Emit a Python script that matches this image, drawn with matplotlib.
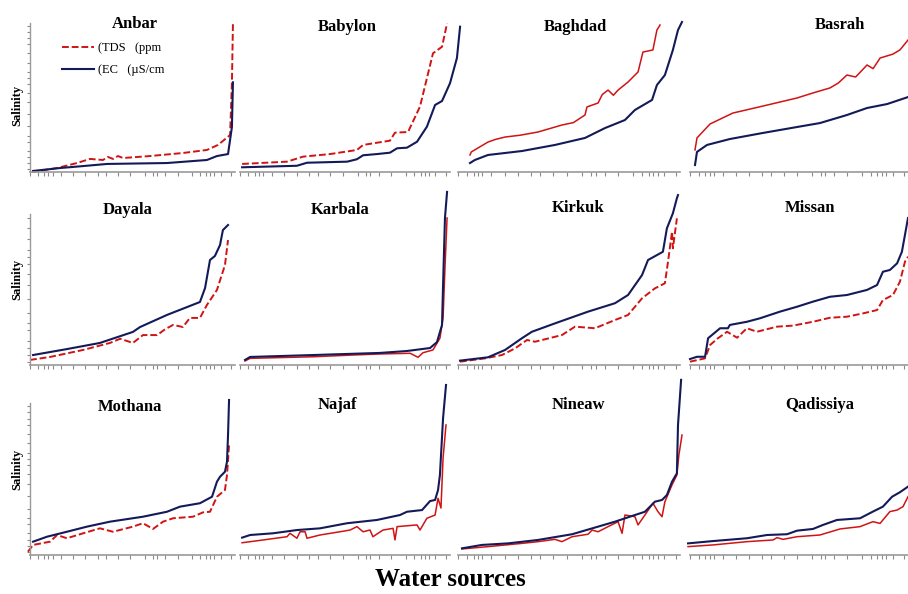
import matplotlib.pyplot as plt

plt.rcParams['font.family'] = ['Liberation Serif', 'DejaVu Serif']

regions = ['Anbar', 'Babylon', 'Baghdad', 'Basrah',
           'Dayala', 'Karbala', 'Kirkuk', 'Missan',
           'Mothana', 'Najaf', 'Nineaw', 'Qadissiya']

# x = position along the sorted water sources (% of panel), y = salinity (% of panel)
anbar_ec_x = [1.5, 14.6, 25.9, 37.6, 66.8, 86.3, 91.2, 96.6, 98.5, 99]
anbar_ec_y = [0.7, 2.6, 3.9, 5.3, 5.9, 7.9, 10.5, 11.8, 29.6, 59]
anbar_tds_x = [1, 13.2, 22.9, 29.3, 35.6, 38, 40.5, 42.9, 45.4, 58.5, 74.6, 86.3, 91.7, 97.6, 98.5, 99]
anbar_tds_y = [0, 2.6, 5.9, 8.6, 7.9, 9.9, 8.6, 10.5, 9.2, 10.5, 12.5, 14.5, 17.8, 24.3, 58.6, 98]

babylon_ec_x = [1, 27.1, 31.9, 51, 55.7, 58.6, 65.2, 71.4, 74.8, 79.5, 84.3, 89, 92.9, 96.2, 100, 103.3, 104.8]
babylon_ec_y = [3.1, 4.1, 6.1, 6.8, 8.4, 11, 11.8, 12.7, 15.6, 16, 19.9, 29.8, 44.1, 46.7, 58.4, 75, 95.6]
babylon_tds_x = [1, 22.4, 30, 42.9, 55.7, 58.6, 71.4, 73.8, 80, 85.7, 91.9, 96.2, 98.6]
babylon_tds_y = [5.3, 6.8, 10.1, 11.8, 14.5, 17.8, 20.6, 25.9, 26.3, 43, 78.1, 82.4, 97.8]

baghdad_ec_x = [5.4, 7.6, 13.5, 28.8, 43.7, 57.2, 66.2, 75.2, 79.7, 87.4, 89.6, 93.2, 96.8, 99.1, 100.9]
baghdad_ec_y = [5.9, 7.9, 11.2, 13.8, 17.8, 22.4, 28.9, 34.2, 40.8, 47.4, 57.2, 63.8, 80.3, 93.4, 98.7]
baghdad_tds_x = [5.4, 6.0, 13.5, 17.0, 21.2, 28.0, 36, 46.8, 52.0, 57.2, 58.1, 63.1, 65.0, 67.6, 70.0,
                 72.1, 76.6, 81.1, 83.3, 87.8, 89.6, 91]
baghdad_tds_y = [11.2, 13.2, 19.7, 21.5, 23, 24.2, 26.3, 30.9, 32.5, 37.5, 42.8, 45.4, 51.0, 53.9, 50.5,
                 53.9, 59.2, 65.8, 78.9, 80.3, 93.4, 96.7]

basrah_ec_x = [2.3, 3.2, 7.8, 18.3, 33.5, 49.1, 59.6, 72, 81.2, 90.4, 100]
basrah_ec_y = [4.6, 13.2, 17.8, 21.7, 25.7, 29.6, 32.2, 37.5, 42.1, 44.7, 49.3]
basrah_tds_x = [2.3, 3.2, 9.2, 19.7, 33.5, 49.1, 56.4, 64.2, 68.0, 72, 76.0, 81.2, 84.0, 87.2, 93.0, 96.3, 100]
basrah_tds_y = [14.5, 22.4, 31.6, 38.8, 43.4, 48.7, 52, 55.3, 58.5, 63.8, 62.5, 70.4, 68.0, 75, 77.5, 80.3, 86.8]

dayala_ec_x = [1.5, 18, 34.1, 50.2, 53.7, 66.8, 76.6, 82.9, 85.4, 87.8, 90.2, 92.7, 94.1, 96.6]
dayala_ec_y = [5.7, 9.1, 12.6, 18.9, 21.7, 28.6, 33.1, 36, 44, 60, 62.3, 68.6, 77.1, 80]
dayala_tds_x = [0, 9.8, 25.9, 39, 44.0, 50.2, 55.1, 62, 66.0, 69.8, 74.6, 78, 82.9, 86.3, 91.2, 95.1, 96.6]
dayala_tds_y = [2.9, 4.6, 8.6, 12.6, 15.0, 12.6, 17.1, 17.1, 20.5, 22.9, 21.7, 26.9, 26.9, 34.3, 42.9, 57.1, 71.4]

karbala_ec_x = [2.4, 4.8, 34.8, 66.7, 79.5, 90.5, 93.8, 96.2, 96.7, 97.6, 98.6]
karbala_ec_y = [2.9, 4.6, 5.7, 6.9, 8, 9.7, 13.1, 22.9, 45.7, 84, 98.9]
karbala_tds_x = [2.4, 4.8, 34.8, 53.8, 66.7, 81, 84.8, 87.1, 91.9, 95.2, 96.7, 97.6, 98.6]
karbala_tds_y = [2.3, 3.8, 4.7, 5.7, 6.3, 6.7, 4.4, 7, 8.6, 15.3, 26.9, 55.4, 84]

kirkuk_ec_x = [0.9, 13.5, 21.2, 28.8, 33.3, 43.7, 58.6, 70.7, 76.6, 82.9, 85.6, 92.3, 94.1, 96.8, 98.6, 99.1]
kirkuk_ec_y = [2.5, 4.4, 8.6, 15.3, 19, 23.8, 30.5, 35.3, 40, 51.4, 60, 64.7, 78.1, 86.7, 95.3, 97.1]
kirkuk_tds_x = [0.9, 12.2, 19.8, 25.7, 31.1, 34.7, 46.8, 52.7, 61.7, 70.7, 76.6, 82.9, 88.7, 93.2, 94.6,
                96.4, 96.8, 98.6]
kirkuk_tds_y = [1.9, 3.8, 5.7, 9.5, 14.3, 13.3, 17.1, 21.9, 21, 25.7, 28.6, 38.1, 43.8, 46.7, 59,
                76.2, 66.7, 83.8]

missan_ec_x = [0, 3.2, 6.9, 8.3, 13.8, 17.4, 18.3, 26.1, 32.1, 41.3, 49.1, 56.4, 64.2, 72, 81.2, 85.8,
               88.5, 91.7, 95, 97.2, 98.6, 100]
missan_ec_y = [3.4, 4.7, 4.7, 15.3, 21, 21, 22.9, 24.7, 26.7, 30.5, 33.3, 36.2, 39, 40, 42.9, 45.7,
               53.3, 54.3, 58.1, 64.7, 74.3, 84]
missan_tds_x = [0, 6.9, 9.2, 12.4, 17, 21.6, 26.1, 30.7, 39.9, 47.2, 56.4, 64.2, 72, 79.4, 85.8, 88.5,
                93.1, 96.3, 98.6, 100]
missan_tds_y = [1.9, 3.8, 11.4, 14.9, 19, 15.6, 21, 19, 21.9, 22.5, 24.7, 27, 27.6, 29.5, 31.4, 37.1,
                40, 47.6, 59, 61.9]

mothana_ec_x = [1.5, 8.3, 18, 27.8, 39, 55.1, 66.8, 73.2, 82.9, 88.8, 91.2, 92.7, 95.1, 96.1, 96.6, 97.1]
mothana_ec_y = [8.6, 11.8, 15, 18.3, 21.5, 24.7, 27.9, 31.2, 33.4, 37.6, 47.3, 50.5, 53.7, 60.2, 77.4, 100]
mothana_tds_x = [-1, 1.5, 9.8, 13.2, 18, 25.9, 34.1, 40.5, 50.2, 55.1, 60, 64.9, 69.8, 79.5, 84.4, 87.8,
                 91.2, 95.1, 96.1, 97.1]
mothana_tds_y = [2.1, 6.5, 8.6, 12.9, 10.8, 14, 17.2, 15, 18.3, 20.5, 16.8, 21.5, 23.7, 24.7, 27.5, 27.9,
                 37.6, 41.9, 51.6, 71]

najaf_ec_x = [1, 4.8, 15.7, 27.1, 38.1, 51, 65.2, 76.2, 79.5, 86.7, 90.5, 92.9, 94.3, 95.2, 96.7, 98.1]
najaf_ec_y = [11.2, 12.9, 14, 16.1, 17.2, 20.5, 22.6, 25.8, 27.9, 29, 34.8, 35.5, 41.9, 51.6, 88.4, 109.7]
najaf_tds_x = [1, 11, 22.4, 23.8, 27.1, 28.6, 31, 31.9, 38.1, 47.6, 52.4, 55.7, 58.6, 61.9, 63.3, 68.1,
               72.9, 73.8, 74.8, 84.3, 85.7, 89, 92.9, 94.3, 95.7, 96.7, 98.1]
najaf_tds_y = [7.9, 9.7, 11.8, 14, 10.8, 15, 15, 10.8, 12.9, 15, 16.1, 18.3, 15, 16.1, 11.8, 16.1,
               17.2, 9.7, 18.3, 19.4, 16.1, 23.7, 25.8, 36.6, 30.3, 62.6, 83.9]

nineaw_ec_x = [1.8, 10.8, 22.5, 36, 51.4, 63.1, 70.7, 79.7, 84.2, 88.7, 91.9, 94.1, 96.4, 98.6, 99.1, 100.5]
nineaw_ec_y = [4.3, 6.5, 7.5, 9.7, 13.4, 18.3, 21.5, 25.8, 27.9, 34.4, 35.5, 38.7, 47.3, 52.7, 83.9, 113]
nineaw_tds_x = [1.8, 13.5, 28.8, 36, 43.7, 46.8, 51.4, 58.6, 60.4, 63.1, 67.6, 72.1, 73.9, 75.2, 79.7,
                81.1, 84.2, 87.8, 90.1, 91.9, 93.2, 96.4, 98.6, 99.5, 100.9]
nineaw_tds_y = [3.9, 5.4, 7.5, 8.6, 10.1, 8.6, 11.8, 13.4, 16.1, 15, 18.3, 21.5, 14, 25.8, 24.7,
                19.4, 25.8, 33.4, 27.9, 24.7, 34.4, 45.2, 51.6, 64.5, 77.4]

qadissiya_ec_x = [-0.9, 10.6, 26.1, 35.3, 44.5, 49.1, 56.4, 61, 67.4, 78, 83.9, 88.5, 92.7, 96.3, 100]
qadissiya_ec_y = [7.5, 9, 10.8, 12.9, 13.4, 15.7, 16.8, 19.4, 22.6, 23.7, 28, 31.2, 37.6, 40.5, 44.1]
qadissiya_tds_x = [-0.9, 10.6, 26.1, 38.1, 39.9, 42.7, 49.1, 59.6, 68.8, 78, 83.9, 87.2, 91.7, 95, 97.7, 100]
qadissiya_tds_y = [5.4, 6.5, 8.6, 9.7, 11.2, 10.1, 11.8, 12.9, 16.8, 18.3, 21.5, 20.4, 28, 29, 31.2, 37.6]

ec_x = [anbar_ec_x, babylon_ec_x, baghdad_ec_x, basrah_ec_x, dayala_ec_x, karbala_ec_x,
        kirkuk_ec_x, missan_ec_x, mothana_ec_x, najaf_ec_x, nineaw_ec_x, qadissiya_ec_x]
ec_y = [anbar_ec_y, babylon_ec_y, baghdad_ec_y, basrah_ec_y, dayala_ec_y, karbala_ec_y,
        kirkuk_ec_y, missan_ec_y, mothana_ec_y, najaf_ec_y, nineaw_ec_y, qadissiya_ec_y]
tds_x = [anbar_tds_x, babylon_tds_x, baghdad_tds_x, basrah_tds_x, dayala_tds_x, karbala_tds_x,
         kirkuk_tds_x, missan_tds_x, mothana_tds_x, najaf_tds_x, nineaw_tds_x, qadissiya_tds_x]
tds_y = [anbar_tds_y, babylon_tds_y, baghdad_tds_y, basrah_tds_y, dayala_tds_y, karbala_tds_y,
         kirkuk_tds_y, missan_tds_y, mothana_tds_y, najaf_tds_y, nineaw_tds_y, qadissiya_tds_y]
tds_dashed = [True, True, False, False, True, False, True, True, True, False, False, False]

# panel boxes in pixels
col_px = [(30, 235), (240, 450), (458, 680), (690, 908)]
row_px = [(20, 172), (190, 365), (400, 555)]
left_spine_top = [98, 86, 98]
ylabel_y = [0.44, 0.49, 0.55]
title_px = [(135, 24), (347, 27), (575, 27), (840, 25),
            (128, 210), (340, 210), (578, 208), (810, 208),
            (130, 407), (337, 405), (578, 405), (820, 405)]
xtick_pos = [0, 4, 7, 9, 11, 15, 21, 27, 33, 37, 43, 49, 56, 60, 62, 66, 72, 79, 83, 86, 88, 90, 93, 98]
ytick_pos = [2, 6, 10, 14, 20, 24, 30, 38, 46, 52, 58, 62, 66, 72, 78, 84, 88, 92, 96]

W, H = 908, 594
fig = plt.figure(figsize=(W / 100, H / 100), dpi=100)
navy = '#141a58'
red = '#d01414'

for i, name in enumerate(regions):
    r, c = divmod(i, 4)
    x0, x1 = col_px[c]
    y0, y1 = row_px[r]
    ax = fig.add_axes([x0 / W, 1 - y1 / H, (x1 - x0) / W, (y1 - y0) / H])
    ax.set_xlim(0, 100)
    ax.set_ylim(0, 100)
    ax.patch.set_alpha(0)
    for s in ['top', 'right']:
        ax.spines[s].set_visible(False)
    ax.spines['bottom'].set_color('#9a9a9a')
    ax.spines['bottom'].set_linewidth(1.2)
    ax.set_xticks(xtick_pos)
    ax.set_xticklabels([])
    ax.tick_params(axis='x', length=3, width=0.8, color='#8a8a8a', direction='out')
    if c == 0:
        top = left_spine_top[r]
        ax.spines['left'].set_color('#9a9a9a')
        ax.spines['left'].set_linewidth(1.0)
        ax.spines['left'].set_bounds(0, top)
        ax.set_yticks([t for t in ytick_pos if t <= top])
        ax.set_yticklabels([])
        ax.tick_params(axis='y', length=2.5, width=0.8, color='#8a8a8a', direction='out')
        ax.set_ylabel('Salinity', fontsize=9, fontweight='bold')
        ax.yaxis.set_label_coords(-0.035, ylabel_y[r])
    else:
        ax.spines['left'].set_visible(False)
        ax.set_yticks([])

    ls = (0, (3.5, 1.5)) if tds_dashed[i] else '-'
    lw = 1.4 if tds_dashed[i] else 1.1
    ax.plot(tds_x[i], tds_y[i], color=red, lw=lw, ls=ls, clip_on=False, label='(TDS   (ppm')
    ax.plot(ec_x[i], ec_y[i], color=navy, lw=1.5, clip_on=False, label='(EC   (\u00b5S/cm')

    tx, ty = title_px[i]
    fig.text(tx / W, 1 - ty / H, name, ha='center', va='center', fontsize=12, fontweight='bold')

    if i == 0:
        ax.legend(loc='upper left', bbox_to_anchor=(0.1, 0.93), frameon=False, fontsize=9,
                  handlelength=2.6, handletextpad=0.3, labelspacing=0.8)

fig.text(450 / W, 1 - 579 / H, 'Water sources', ha='center', va='center', fontsize=18, fontweight='bold')

fig.savefig('out.png', dpi=100, facecolor='white')
